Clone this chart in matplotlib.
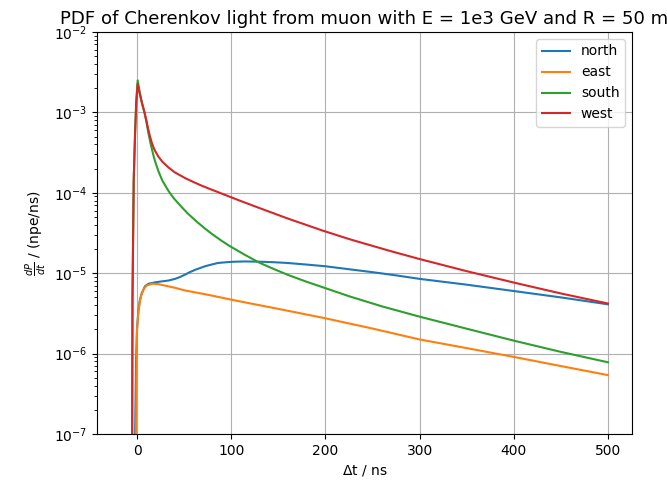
"""
PDF of Cherenkov light from a muon, four PMT directions
"""
import numpy as np
import matplotlib
matplotlib.use('Agg')
import matplotlib.pyplot as plt

# values (dt in ns, dP/dt in npe/ns)
t_north = [-2.3, -2.0, -1.0, 0.0, 1.4, 3.0, 5.0, 8.5, 12.3, 19.4, 26, 33.3, 40.4, 46,
           51, 56, 61.6, 67, 72.2, 79, 86, 95, 103.5, 115, 130, 145, 160, 180, 200,
           225, 250, 275, 300, 350, 400, 450, 500]
p_north = [1e-9, 1e-7, 8e-7, 2.0e-6, 3.4e-6, 4.6e-6, 5.6e-6, 6.9e-6, 7.4e-6, 7.7e-6,
           7.9e-6, 8.1e-6, 8.5e-6, 9.0e-6, 9.6e-6, 1.03e-5, 1.1e-5, 1.16e-5, 1.22e-5,
           1.28e-5, 1.34e-5, 1.37e-5, 1.39e-5, 1.40e-5, 1.39e-5, 1.37e-5, 1.34e-5,
           1.28e-5, 1.22e-5, 1.12e-5, 1.03e-5, 9.4e-6, 8.5e-6, 7.2e-6, 6.0e-6, 5.0e-6,
           4.1e-6]

t_east = [-1.3, -1.0, -0.5, 0.0, 1.5, 3.2, 5.0, 7.0, 10, 15.8, 22.7, 30, 40, 51, 75,
          103.5, 150, 200, 250, 300, 350, 400, 450, 500]
p_east = [1e-9, 1e-7, 6e-7, 2.0e-6, 3.3e-6, 4.6e-6, 5.6e-6, 6.3e-6, 7.0e-6, 7.4e-6,
          7.3e-6, 7.0e-6, 6.6e-6, 6.1e-6, 5.4e-6, 4.6e-6, 3.6e-6, 2.75e-6, 2.05e-6,
          1.5e-6, 1.17e-6, 9.1e-7, 7.0e-7, 5.4e-7]

t_south = [-5.5, -4.8, -3.5, -2.0, -0.8, 0.7, 2.5, 5.0, 8.0, 10, 12, 14, 15.8, 17.5,
           19.5, 22.7, 27, 33.3, 38.5, 44, 50, 54.8, 63, 72, 80, 90, 98, 115, 130,
           145, 160, 180, 197, 226, 260, 300, 350, 401, 450, 500]
p_south = [1e-9, 5e-6, 1.5e-4, 6e-4, 1.4e-3, 2.5e-3, 1.9e-3, 1.35e-3, 9.8e-4,
           7.6e-4, 5.6e-4, 4.3e-4, 3.5e-4, 2.9e-4, 2.4e-4, 1.86e-4, 1.41e-4, 1.06e-4,
           8.7e-5, 7.35e-5, 6.17e-5, 5.4e-5, 4.42e-5, 3.6e-5, 3.05e-5, 2.52e-5,
           2.19e-5, 1.68e-5, 1.35e-5, 1.13e-5, 9.55e-6, 7.83e-6, 6.7e-6, 5.13e-6,
           3.87e-6, 2.88e-6, 2.04e-6, 1.44e-6, 1.05e-6, 7.8e-7]

t_west = [-5.5, -4.8, -3.5, -2.0, -0.8, 0.7, 2.5, 5.0, 8.0, 10, 12.3, 14, 15.8, 17.5,
          19.5, 22.7, 27, 33.3, 40, 50.8, 60, 68.4, 77, 86, 103.5, 114, 130, 160, 197,
          226, 268, 300, 350, 401, 450, 500]
p_west = [1e-9, 5e-6, 1.4e-4, 5.5e-4, 1.3e-3, 2.26e-3, 1.78e-3, 1.34e-3, 1.0e-3,
          7.9e-4, 5.9e-4, 4.9e-4, 4.17e-4, 3.67e-4, 3.27e-4, 2.82e-4, 2.43e-4,
          2.07e-4, 1.8e-4, 1.53e-4, 1.36e-4, 1.23e-4, 1.12e-4, 1.02e-4, 8.47e-5,
          7.6e-5, 6.46e-5, 4.79e-5, 3.39e-5, 2.64e-5, 1.9e-5, 1.5e-5, 1.06e-5,
          7.6e-6, 5.6e-6, 4.2e-6]

fig = plt.figure(figsize=(6.67, 4.84), dpi=100)
ax = fig.add_axes([0.1454, 0.1033, 0.8021, 0.8306])

ax.plot(t_north, p_north, label='north')
ax.plot(t_east, p_east, label='east')
ax.plot(t_south, p_south, label='south')
ax.plot(t_west, p_west, label='west')

ax.set_yscale('log')
ax.set_ylim(1e-7, 1e-2)
ax.set_xlim(-42.5, 525.5)
ax.set_xlabel(r'$\Delta$t / ns')
ax.set_ylabel(r'$\frac{dP}{dt}$ / (npe/ns)')
ax.set_title('PDF of Cherenkov light from muon with E = 1e3 GeV and R = 50 m',
             fontsize=13.1)
ax.grid(True)
ax.legend(loc='upper right')

fig.savefig('out.png', dpi=100)
print("[OK] saved out.png")
